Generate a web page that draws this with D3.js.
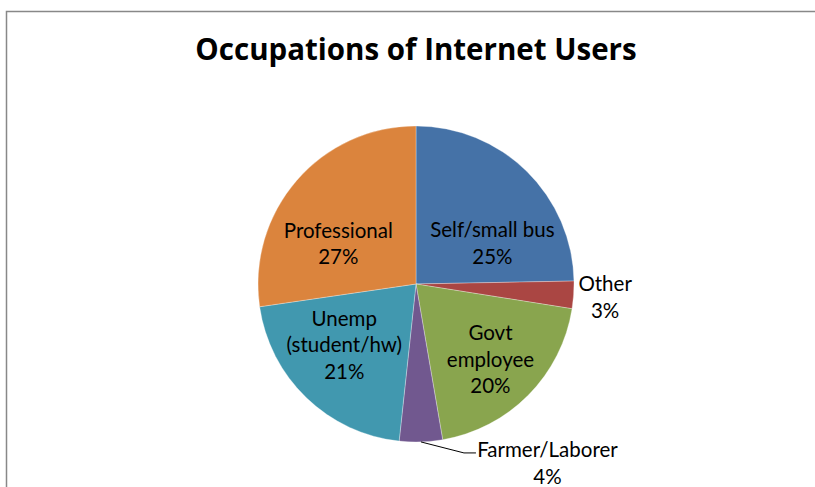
<!DOCTYPE html>
<html>
<head>
<meta charset="utf-8">
<script src="https://cdn.jsdelivr.net/npm/d3@7"></script>
<style>
  html, body { margin: 0; padding: 0; overflow: hidden; background: #fff; }
  svg { display: block; }
  text { font-family: Lato, "Liberation Sans", sans-serif; fill: #000; font-variant-ligatures: none; }
</style>
</head>
<body>
<script>
const w = 815;
const h = 487;

// data, clockwise from 12 o'clock
const categories = ["Self/small bus", "Other", "Govt employee", "Farmer/Laborer", "Unemp (student/hw)", "Professional"];
const labelLines = [["Self/small bus"], ["Other"], ["Govt", "employee"], ["Farmer/Laborer"], ["Unemp", "(student/hw)"], ["Professional"]];
const values = [24.7, 2.8, 19.8, 4.4, 21.0, 27.3];
const colors = ["#4572A7", "#AA4643", "#89A54E", "#71588F", "#4198AF", "#DB843D"];

// label placement: "in" = inside slice, "out" = outside, "leader" = outside with line
const labelMode = ["in", "out", "in", "leader", "in", "in"];
const labelNudge = [[10, 27], [0, 0], [7, 9], [0, 0], [-6, -7], [-6, 22]];

const cx = 416, cy = 284, r = 158;
const lineH = 26.5;
const fontSize = 20.5;

const svg = d3.select("body")
              .append("svg")
              .attr("width", w)
              .attr("height", h)

// chart area frame: only the top and left edges fall inside the picture
svg.append("path")
   .attr("d", "M6.5," + h + "V11.5H" + w)
   .attr("fill", "none")
   .attr("stroke", "#888")
   .attr("stroke-width", 1.5)

svg.append("text")
   .attr("x", 416)
   .attr("y", 60)
   .attr("text-anchor", "middle")
   .style("font-family", "'Open Sans', Lato, sans-serif")
   .style("font-size", "29.5px")
   .style("font-weight", "bold")
   .text("Occupations of Internet Users")

const total = d3.sum(values);
const pie = d3.pie().sort(null).value(d => d)(values);
const arc = d3.arc().innerRadius(0).outerRadius(r);
const labelArc = d3.arc().innerRadius(r * 0.6).outerRadius(r * 0.6);
const outArc = d3.arc().innerRadius(r * 1.2).outerRadius(r * 1.2);

const g = svg.append("g").attr("transform", "translate(" + cx + "," + cy + ")");

g.selectAll("path")
 .data(pie)
 .enter()
 .append("path")
 .attr("d", arc)
 .attr("fill", (d, i) => colors[i])
 .attr("stroke", "rgba(255,255,255,0.5)")
 .attr("stroke-width", 0.6)

function drawLabel(lines, x, y, anchor) {
  const n = lines.length;
  const t = g.append("text")
             .attr("text-anchor", anchor || "middle")
             .style("font-size", fontSize + "px")
  lines.forEach((s, k) => {
    t.append("tspan")
     .attr("x", x)
     .attr("y", y + (k - (n - 1) / 2) * lineH + fontSize * 0.35)
     .text(s)
  })
  return t;
}

pie.forEach((d, i) => {
  const pct = Math.round(values[i] / total * 100) + "%";
  const lines = labelLines[i].concat([pct]);
  if (labelMode[i] === "in") {
    const c = labelArc.centroid(d);
    drawLabel(lines, c[0] + labelNudge[i][0], c[1] + labelNudge[i][1]);
  } else if (labelMode[i] === "out") {
    const c = outArc.centroid(d);
    drawLabel(lines, c[0], c[1]);
  } else {
    const mid = (d.startAngle + d.endAngle) / 2;
    const p0 = [Math.sin(mid) * r, -Math.cos(mid) * r];
    const p1 = [p0[0] + 43, p0[1] + 11];
    const p2 = [p1[0] + 12, p1[1]];
    g.append("polyline")
     .attr("points", [p0, p1, p2].map(p => p.join(",")).join(" "))
     .attr("fill", "none")
     .attr("stroke", "#000")
     .attr("stroke-width", 1)
    const t = drawLabel(lines, 0, p2[1] + lineH / 2 - 3);
    const bw = t.node().getBBox().width;
    t.selectAll("tspan").attr("x", p2[0] + 1 + bw / 2);
  }
});
</script>
</body>
</html>
